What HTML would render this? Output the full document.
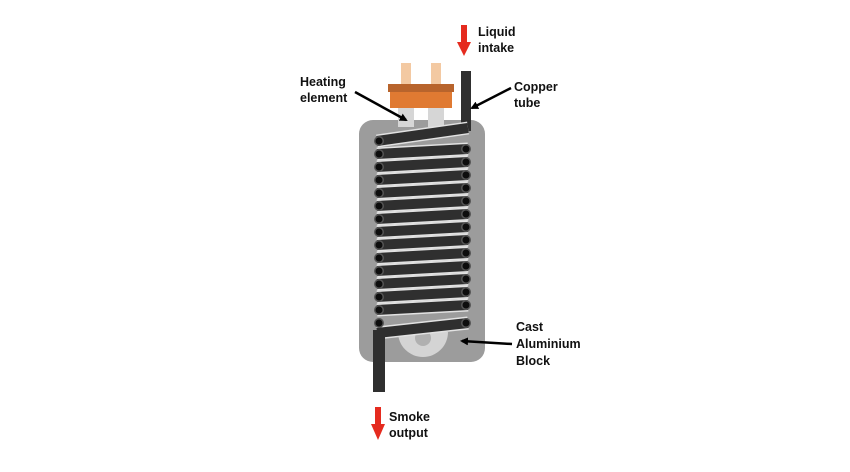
<!DOCTYPE html>
<html><head><style>
body{margin:0;background:#fff;width:850px;height:467px;overflow:hidden}
text{font-family:"Liberation Sans",sans-serif;font-weight:bold;font-size:12.5px;fill:#111}
</style></head><body>
<svg width="850" height="467" viewBox="0 0 850 467" xmlns="http://www.w3.org/2000/svg">
<defs><marker id="ah" markerWidth="8" markerHeight="8" refX="6" refY="4" orient="auto" markerUnits="userSpaceOnUse"><path d="M0,0 L8,4 L0,8 Z" fill="#000"/></marker></defs>
<rect x="359" y="120" width="126" height="242" rx="14" fill="#9c9c9c"/>
<rect x="398" y="105" width="16" height="22" fill="#d6d6d6"/>
<rect x="428" y="105" width="16" height="22" fill="#d6d6d6"/>
<rect x="401" y="63" width="10" height="22" fill="#f3c9a2"/>
<rect x="431" y="63" width="10" height="22" fill="#f3c9a2"/>
<rect x="390" y="91" width="62" height="17" fill="#e07a32"/>
<rect x="388" y="84" width="66" height="8" fill="#b8642c"/>
<path d="M398,332 L448,332 A25,25 0 0 1 398,332 Z" fill="#d4d4d4"/>
<circle cx="423" cy="338" r="8" fill="#b0b0b0"/>
<rect x="461" y="71" width="10" height="60" fill="#2f2f2f"/>
<g id="coils"></g>
<rect x="373" y="330" width="12" height="62" fill="#2f2f2f"/>
<polygon points="461,25 467,25 467,42 471,42 464,56 457,42 461,42" fill="#e52b1f"/>
<polygon points="375,407 381,407 381,424 385,424 378,440 371,424 375,424" fill="#e52b1f"/>
<text x="478" y="36">Liquid</text><text x="478" y="52">intake</text>
<text x="514" y="91">Copper</text><text x="514" y="107">tube</text>
<text x="300" y="86">Heating</text><text x="300" y="102">element</text>
<text x="516" y="331">Cast</text><text x="516" y="348">Aluminium</text><text x="516" y="365">Block</text>
<text x="389" y="421">Smoke</text><text x="389" y="437">output</text>
<line x1="355" y1="92" x2="406" y2="120" stroke="#000" stroke-width="2.5" marker-end="url(#ah)"/>
<line x1="511" y1="88" x2="472" y2="108" stroke="#000" stroke-width="2.5" marker-end="url(#ah)"/>
<line x1="512" y1="344" x2="462" y2="341" stroke="#000" stroke-width="2.5" marker-end="url(#ah)"/>
</svg>
<script>
var g=document.getElementById('coils'),h='';
var bands=[[141,128]];
for(var k=1;k<14;k++){var yl=141+13*k;bands.push([yl,yl-5]);}
bands.push([333,323]);
bands.forEach(function(b){h+='<line x1="377" y1="'+b[0]+'" x2="468" y2="'+b[1]+'" stroke="#e2e2e2" stroke-width="13"/>';});
bands.forEach(function(b){h+='<line x1="377" y1="'+b[0]+'" x2="468" y2="'+b[1]+'" stroke="#2f2f2f" stroke-width="10"/>';});
for(var k=0;k<15;k++){var yl=141+13*k;
 h+='<circle cx="379" cy="'+yl+'" r="5" fill="#555"/><circle cx="379" cy="'+yl+'" r="3.5" fill="#0d0d0d"/>';
}
for(var k=1;k<14;k++){var yr=141+13*k-5;
 h+='<circle cx="466" cy="'+yr+'" r="5" fill="#555"/><circle cx="466" cy="'+yr+'" r="3.5" fill="#0d0d0d"/>';
}
h+='<circle cx="466" cy="323" r="5" fill="#555"/><circle cx="466" cy="323" r="3.5" fill="#0d0d0d"/>';
g.innerHTML=h;
</script>
</body></html>
